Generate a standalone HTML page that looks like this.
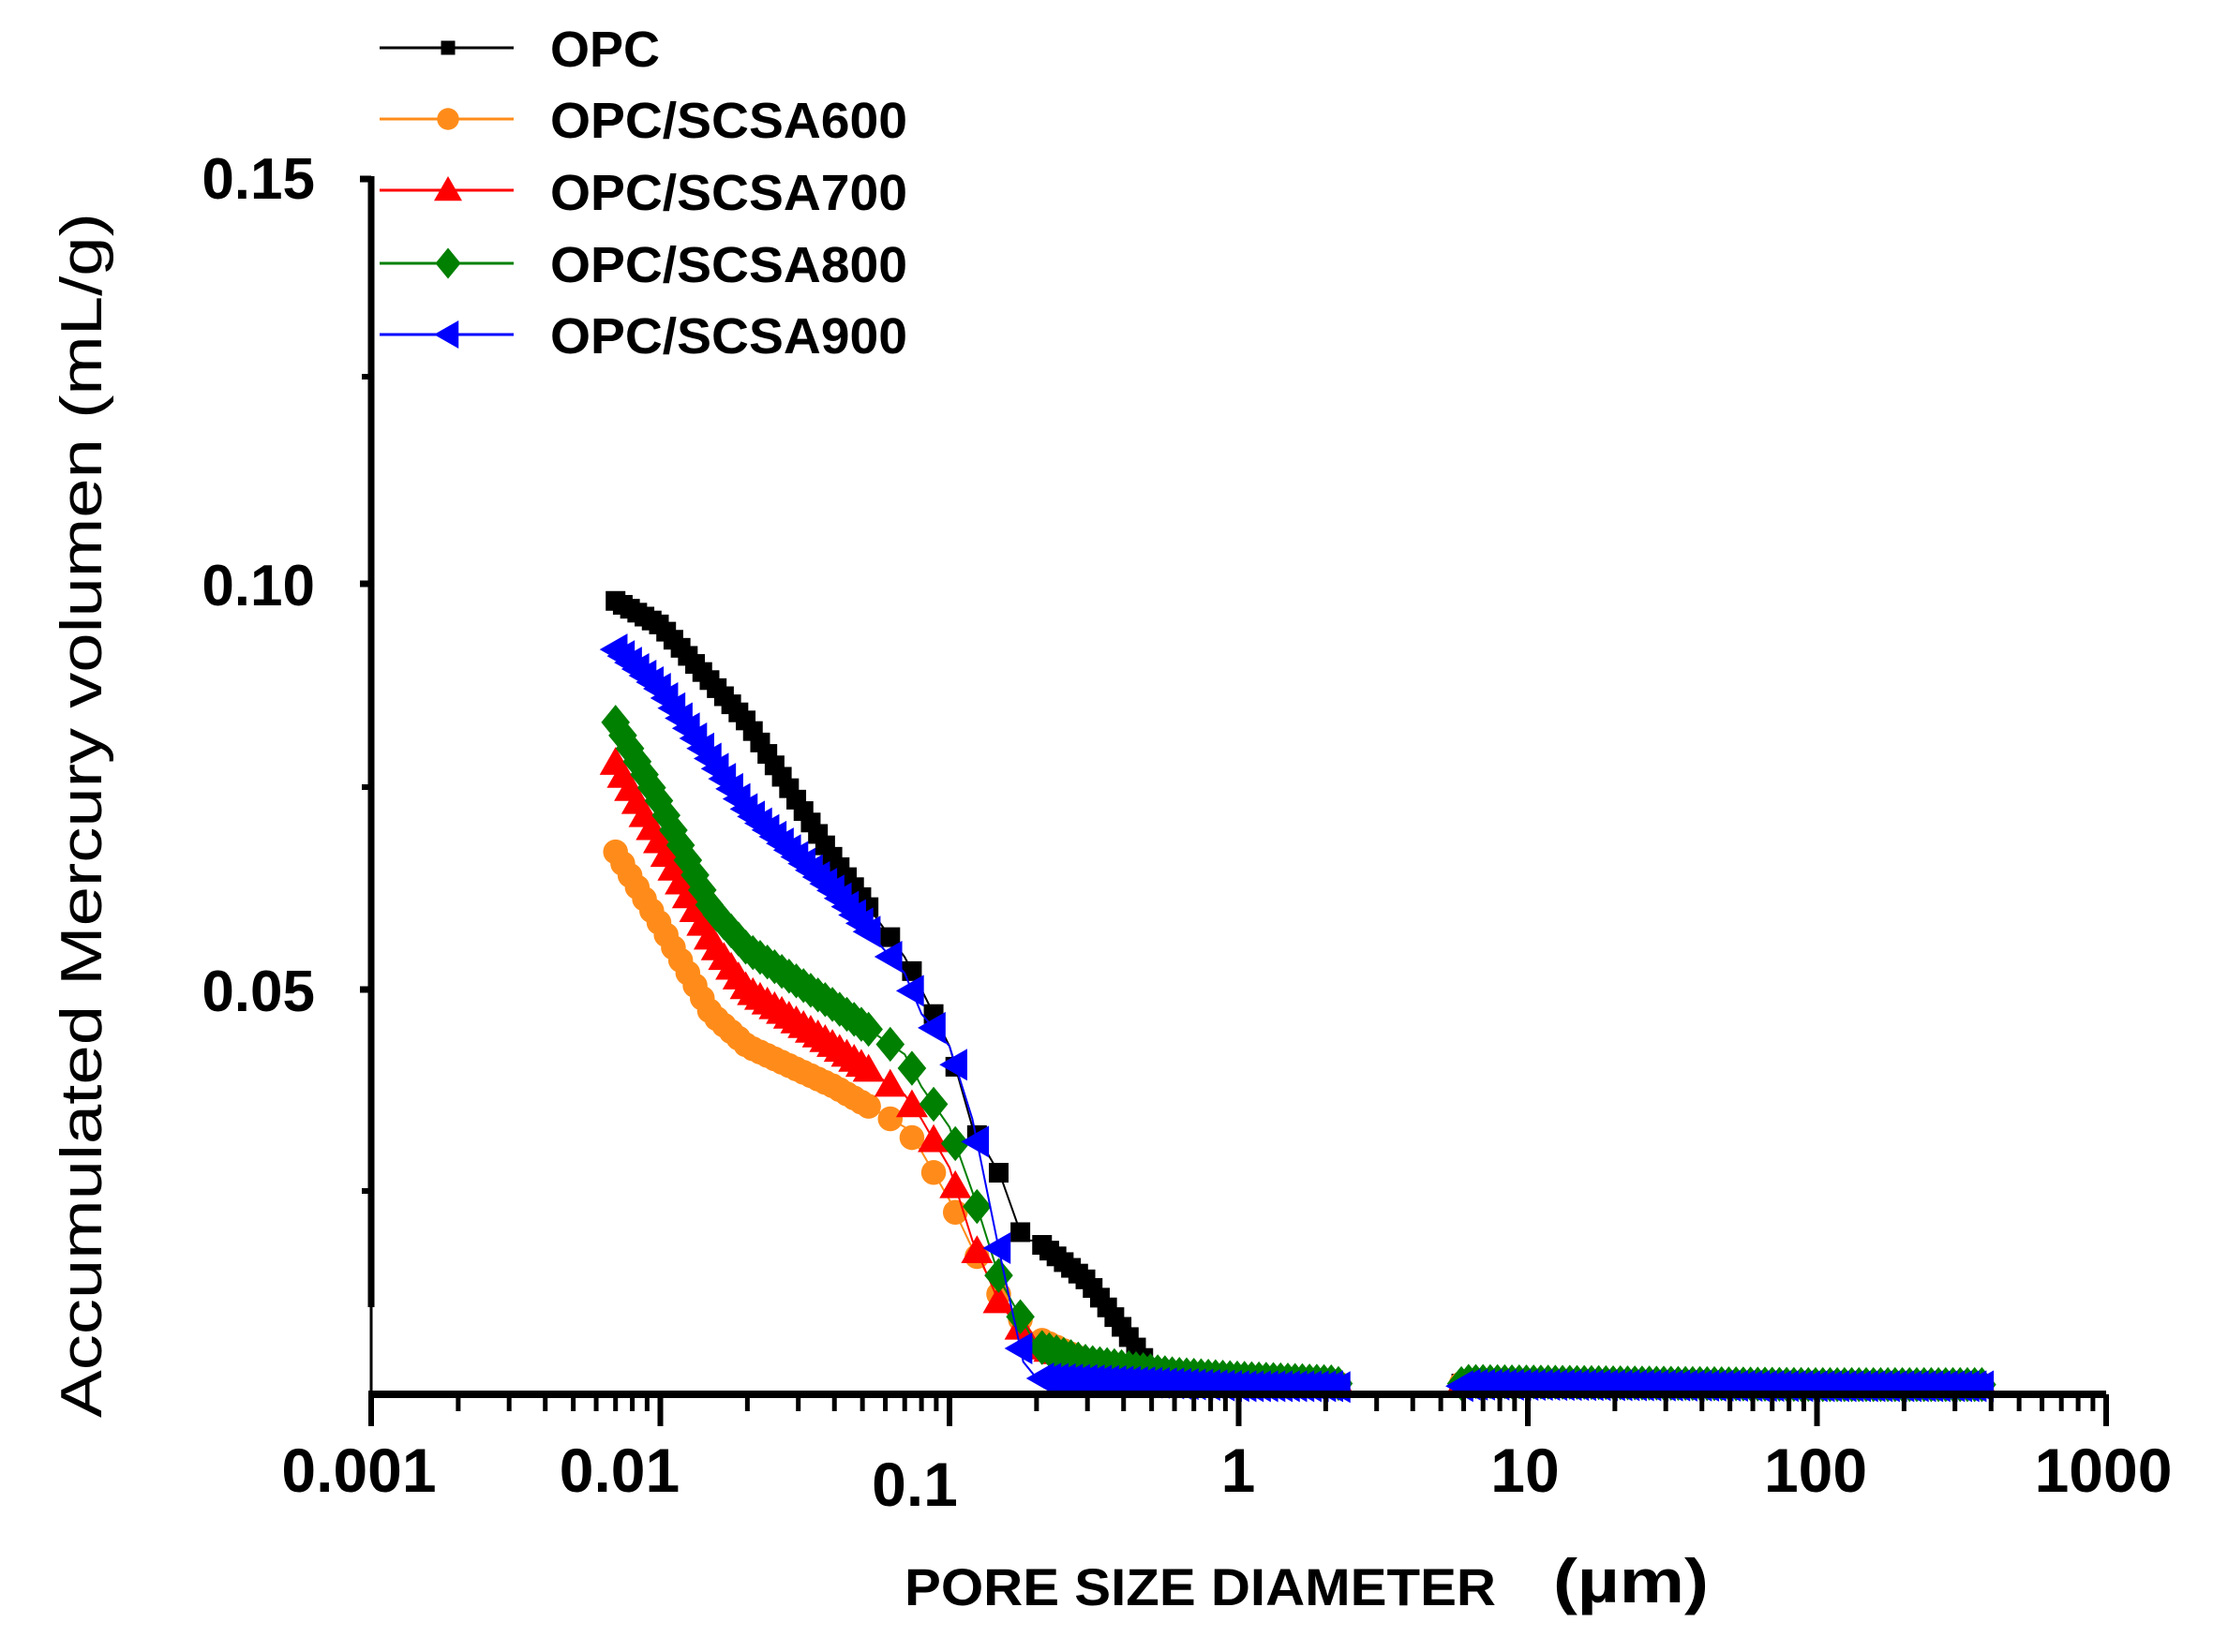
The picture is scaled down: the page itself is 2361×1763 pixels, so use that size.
<!DOCTYPE html>
<html><head><meta charset="utf-8"><style>
html,body{margin:0;padding:0;background:#fff;}
svg{display:block;font-family:"Liberation Sans",sans-serif;}
</style></head><body>
<svg id="s" width="2361" height="1763" viewBox="0 0 2361 1763" xmlns="http://www.w3.org/2000/svg">
<g id="data"></g>
<g id="axes" stroke="#000" fill="none">
<line x1="396" y1="188" x2="396" y2="1395" stroke-width="7"/>
<line x1="396" y1="1395" x2="396" y2="1490" stroke-width="3"/>
<line x1="393" y1="1488" x2="2247" y2="1488" stroke-width="8"/>
<line x1="384" y1="191" x2="396" y2="191" stroke-width="7"/>
<line x1="384" y1="623" x2="396" y2="623" stroke-width="7"/>
<line x1="384" y1="1056" x2="396" y2="1056" stroke-width="7"/>
<line x1="386" y1="402" x2="396" y2="402" stroke-width="6"/>
<line x1="386" y1="840" x2="396" y2="840" stroke-width="6"/>
<line x1="386" y1="1271" x2="396" y2="1271" stroke-width="6"/>
</g>
<g font-weight="bold" font-size="62" fill="#000" text-anchor="end">
<text x="336" y="212">0.15</text>
<text x="336" y="646">0.10</text>
<text x="336" y="1079">0.05</text>
</g>
<g font-weight="bold" font-size="66" fill="#000" text-anchor="middle">
<text x="383" y="1592">0.001</text>
<text x="661" y="1592">0.01</text>
<text x="976" y="1607">0.1</text>
<text x="1321" y="1592">1</text>
<text x="1627" y="1592">10</text>
<text x="1937" y="1592">100</text>
<text x="2244" y="1592">1000</text>
</g>
<text transform="translate(108,870) rotate(-90)" font-size="62" text-anchor="middle" fill="#000" textLength="1286" lengthAdjust="spacingAndGlyphs">Accumulated Mercury volumen (mL/g)</text>
<text x="965" y="1713" font-size="56" font-weight="bold" fill="#000" textLength="631" lengthAdjust="spacingAndGlyphs">PORE SIZE DIAMETER</text>
<text x="1657" y="1710" font-size="66" font-weight="bold" fill="#000" textLength="166" lengthAdjust="spacingAndGlyphs">(µm)</text>
<g id="legend"></g>
</svg>
<script>
var NS="http://www.w3.org/2000/svg";
function el(t,a,p){var e=document.createElementNS(NS,t);for(var k in a)e.setAttribute(k,a[k]);p.appendChild(e);return e;}
function X(d){return 396+(Math.log10(d)+3)*308.5;}
function Y(v){return 1488-v*8640;}
function marker(g,type,x,y,c,s){
 if(type=="sq")el("rect",{x:x-s*0.75,y:y-s*0.75,width:s*1.5,height:s*1.5,fill:c},g);
 else if(type=="ci")el("circle",{cx:x,cy:y,r:s*0.78,fill:c},g);
 else if(type=="tu")el("polygon",{points:(x)+","+(y-s)+" "+(x+s)+","+(y+s*0.75)+" "+(x-s)+","+(y+s*0.75),fill:c},g);
 else if(type=="di")el("polygon",{points:x+","+(y-s*1.1)+" "+(x+s*0.9)+","+y+" "+x+","+(y+s*1.1)+" "+(x-s*0.9)+","+y,fill:c},g);
 else if(type=="tl")el("polygon",{points:(x-s)+","+y+" "+(x+s*0.75)+","+(y-s)+" "+(x+s*0.75)+","+(y+s),fill:c},g);
}
var tail=[[0.3,0.004],[0.6,0.0025],[1,0.002],[2.2,0.0015],[2.3,0.0003],[5.5,0.0003],[6,0.0016],[100,0.0012],[400,0.0012]];
var series=[
 {c:"#000",m:"sq",p:[[0.007,0.098],[0.01,0.095],[0.02,0.083],[0.04,0.066],[0.07,0.054],[0.08,0.050],[0.1,0.043],[0.12,0.033],[0.15,0.027],[0.18,0.019],[0.2,0.019],[0.3,0.014],[0.4,0.008],[0.5,0.003],[0.6,0.002],[1,0.0018],[2.2,0.0015],[2.3,0.0003],[5.5,0.0003],[6,0.0016],[100,0.0012],[400,0.0012]]},
 {c:"#ff8c1a",m:"ci",p:[[0.007,0.067],[0.01,0.058],[0.015,0.047],[0.02,0.043],[0.04,0.038],[0.07,0.033],[0.08,0.030],[0.1,0.024],[0.12,0.018],[0.15,0.012],[0.2,0.007]].concat(tail)},
 {c:"#ff0000",m:"tu",p:[[0.007,0.078],[0.01,0.068],[0.015,0.056],[0.02,0.050],[0.04,0.043],[0.07,0.037],[0.08,0.034],[0.1,0.028],[0.12,0.019],[0.15,0.011],[0.2,0.006]].concat(tail)},
 {c:"#008000",m:"di",p:[[0.007,0.083],[0.01,0.073],[0.015,0.060],[0.02,0.055],[0.04,0.048],[0.07,0.042],[0.08,0.038],[0.1,0.033],[0.12,0.025],[0.15,0.014],[0.2,0.006]].concat(tail)},
 {c:"#0000ff",m:"tl",p:[[0.007,0.092],[0.01,0.087],[0.02,0.072],[0.04,0.062],[0.07,0.052],[0.08,0.047],[0.1,0.043],[0.12,0.034],[0.15,0.017],[0.18,0.004],[0.2,0.002],[1,0.001],[2.2,0.001],[2.3,0.0003],[5.5,0.0003],[6,0.0012],[100,0.001],[400,0.001]]}
];
function interp(p,d){var L=Math.log10(d);for(var i=0;i<p.length-1;i++){var a=Math.log10(p[i][0]),b=Math.log10(p[i+1][0]);if(L>=a&&L<=b){var t=(L-a)/(b-a);return p[i][1]+t*(p[i+1][1]-p[i][1]);}}return null;}
var dg=document.getElementById("data");
series.forEach(function(s){
 var g=el("g",{},dg);
 var pts=[],L=Math.log10(0.007),end=Math.log10(s.m=="sq"?380:390);
 while(L<=end){var d=Math.pow(10,L);if(!(d>2.25&&d<5.6))pts.push([X(d),Y(interp(s.p,d))]);
  L+= (d>0.05&&d<0.2)?0.075:0.025;}
 el("polyline",{points:s.p.map(function(q){return X(q[0])+","+Y(q[1]);}).join(" "),fill:"none",stroke:s.c,"stroke-width":2},g);
 pts.forEach(function(q){marker(g,s.m,q[0],q[1],s.c,s.m=="sq"?14:17);});
});
var ax=document.getElementById("axes");
for(var dec=-3;dec<3;dec++){for(var k=1;k<10;k++){var x=X(k*Math.pow(10,dec));el("line",{x1:x,y1:1488,x2:x,y2:k==1?1522:1506,"stroke-width":k==1?6:5},ax);}}
el("line",{x1:X(1000),y1:1488,x2:X(1000),y2:1522,"stroke-width":6},ax);
var lg=document.getElementById("legend");
var names=["OPC","OPC/SCSA600","OPC/SCSA700","OPC/SCSA800","OPC/SCSA900"];
var ly=[51,127,203,281,357],by=[71,147,224,301,377];
series.forEach(function(s,i){
 el("line",{x1:405,y1:ly[i],x2:548,y2:ly[i],stroke:s.c,"stroke-width":3},lg);
 marker(lg,s.m,478,ly[i],s.c,s.m=="sq"?10:15);
 var t=el("text",{x:587,y:by[i],"font-size":54,"font-weight":"bold",fill:"#000"},lg);
 if(i>0){t.setAttribute("textLength","381");t.setAttribute("lengthAdjust","spacingAndGlyphs");}
 t.textContent=names[i];
});
</script>
</body></html>
